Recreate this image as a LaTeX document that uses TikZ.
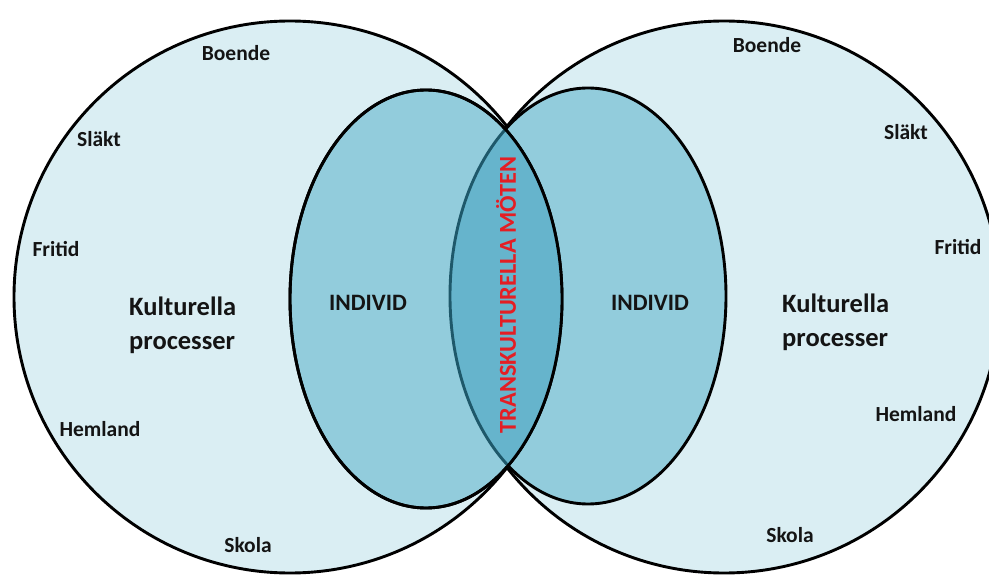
\documentclass[tikz,border=0pt]{standalone}
\usepackage{fontspec}
\setmainfont{Carlito}
\usepackage{tikz}
\definecolor{worldblue}{RGB}{218,238,243}
\definecolor{selfblue}{RGB}{146,204,220}
\definecolor{meetblue}{RGB}{102,180,204}
\definecolor{meetedge}{RGB}{30,88,106}
\definecolor{inkgray}{RGB}{20,20,20}
\definecolor{meetred}{RGB}{228,30,36}
\tikzset{
  world/.style={draw=black, line width=2.9pt, fill=worldblue},
  self/.style={draw=black, line width=2.9pt, fill=selfblue},
  tag/.style={font=\bfseries\fontsize{21.5}{24}\selectfont, text=inkgray, inner sep=0pt, anchor=base},
  process/.style={font=\bfseries\fontsize{26.5}{34}\selectfont, text=inkgray, inner sep=0pt, align=left, anchor=base west},
  person/.style={font=\bfseries\fontsize{23.5}{26}\selectfont, text=inkgray, inner sep=0pt, anchor=base},
  meet/.style={font=\bfseries\fontsize{24.3}{27}\selectfont, text=meetred, inner sep=0pt, rotate=90},
}

\begin{document}
\begin{tikzpicture}[x=1pt, y=-1pt]

\clip (0,0) rectangle (989,577);

% --- the two cultural worlds ---
\coordinate (lworld) at (290,297);
\coordinate (rworld) at (724,297);
\filldraw[world] (lworld) circle (276);
\filldraw[world] (rworld) circle (276);

% --- the two individuals ---
\coordinate (lself) at (426,299);
\coordinate (rself) at (588,296);
\filldraw[self] (rself) ellipse [x radius=138, y radius=208];
\filldraw[self] (lself) ellipse [x radius=136, y radius=209];

% overlap of the individuals
\begin{scope}
  \clip (lself) ellipse [x radius=136, y radius=209];
  \fill[meetblue] (rself) ellipse [x radius=138, y radius=208];
  \draw[meetedge, line width=2.9pt] (rself) ellipse [x radius=138, y radius=208];
\end{scope}
\draw[line width=2.9pt] (lself) ellipse [x radius=136, y radius=209];

% --- left world labels ---
\node (lboende) [tag] at (236,61)  {Boende};
\node (lslakt)  [tag] at (99,147)  {Släkt};
\node (lfritid) [tag] at (56,257)  {Fritid};
\node (lhemland)[tag] at (100,437) {Hemland};
\node (lskola)  [tag] at (248,552) {Skola};
\node (lproc) [process] at (129,350) {Kulturella\\processer};
\node (lperson) [person] at (368,311) {INDIVID};

% --- right world labels ---
\node (rboende) [tag] at (767,53)  {Boende};
\node (rslakt)  [tag] at (906,140) {Släkt};
\node (rfritid) [tag] at (958,255) {Fritid};
\node (rhemland)[tag] at (916,422) {Hemland};
\node (rskola)  [tag] at (790,543) {Skola};
\node (rproc) [process] at (782,347) {Kulturella\\processer};
\node (rperson) [person] at (650,311) {INDIVID};

% --- the meeting ---
\node (meeting) [meet] at (506,295) {TRANSKULTURELLA MÖTEN};

\end{tikzpicture}
\end{document}
